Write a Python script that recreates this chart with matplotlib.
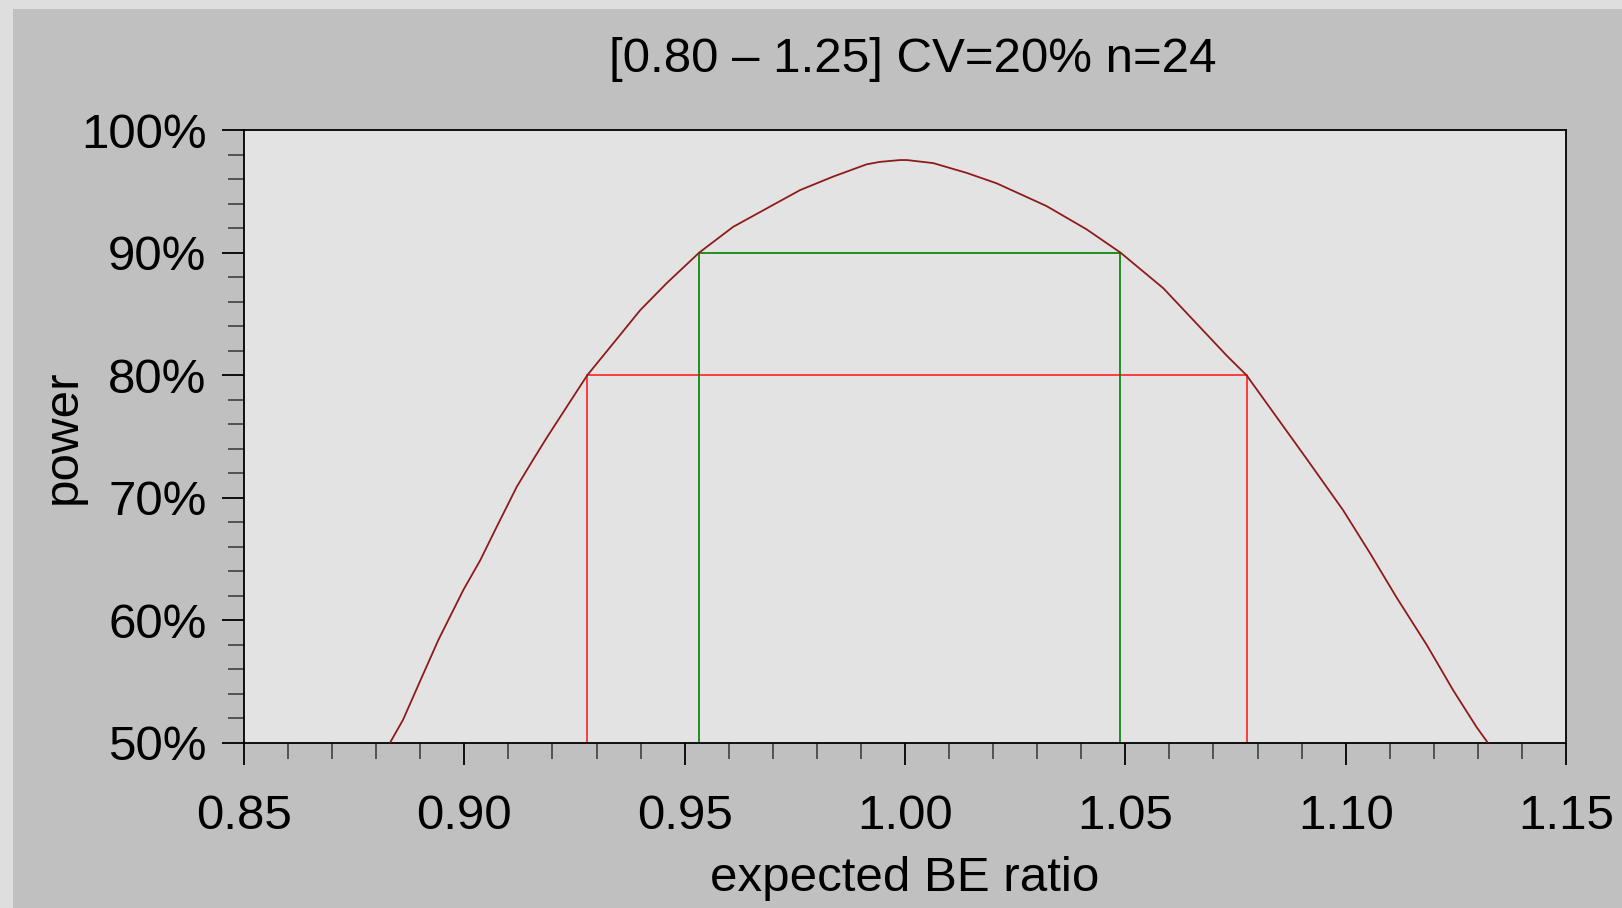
import matplotlib
matplotlib.use("Agg")
import matplotlib.pyplot as plt
from matplotlib.patches import Rectangle
from matplotlib.ticker import MultipleLocator, PercentFormatter

plt.rcParams["font.family"] = ["Liberation Sans", "DejaVu Sans"]

# power curve of the BE study, read along the expected ratio
be_ratio = [0.8831, 0.8861, 0.8899, 0.8941, 0.8998, 0.9036, 0.9073, 0.9119,
            0.9156, 0.9187, 0.9232, 0.9279, 0.9338, 0.9399, 0.9459, 0.9533,
            0.9610, 0.9686, 0.9762, 0.9837, 0.9913, 0.9943, 0.9989, 1.0004,
            1.0064, 1.0140, 1.0208, 1.0321, 1.0412, 1.0489, 1.0586, 1.0662,
            1.0730, 1.0775, 1.0843, 1.0911, 1.0994, 1.1055, 1.1115, 1.1184,
            1.1244, 1.1297, 1.1323]
power = [50.0, 51.9, 55.0, 58.4, 62.5, 64.9, 67.6, 70.9,
         73.1, 74.9, 77.4, 80.0, 82.6, 85.3, 87.5, 90.0,
         92.1, 93.6, 95.1, 96.2, 97.2, 97.4, 97.55, 97.55,
         97.3, 96.5, 95.65, 93.8, 91.9, 90.0, 87.1, 84.2,
         81.6, 80.0, 76.6, 73.2, 69.0, 65.5, 61.9, 58.0,
         54.3, 51.3, 50.0]

# ratio ranges reaching 80% and 90% power
range80 = [0.9279, 1.0775]
range90 = [0.9533, 1.0489]
levels = [80, 90]

title = "[0.80 \u2013 1.25] CV=20% n=24"
fs = 35.5

fig = plt.figure(figsize=(16.22, 9.08), dpi=100, facecolor="#dedede")
fig.patches.append(Rectangle((13 / 1622, 0), 1, 1 - 9 / 908,
                             transform=fig.transFigure, facecolor="#c0c0c0",
                             edgecolor="none", zorder=-10))
ax = fig.add_axes([244 / 1622, 1 - 743 / 908, (1566 - 244) / 1622, (743 - 130) / 908])
ax.set_facecolor("#e3e3e3")

ax.plot(be_ratio, power, color="#8e1b1b", linewidth=1.3, zorder=3)

for (lo, hi), lvl, col in zip([range80, range90], levels, ["#ff2020", "#008000"]):
    ax.plot([lo, lo, hi, hi], [50, lvl, lvl, 50], color=col, linewidth=1.2, zorder=2)

ax.set_xlim(0.85, 1.15)
ax.set_ylim(50, 100)
ax.xaxis.set_major_locator(MultipleLocator(0.05))
ax.xaxis.set_minor_locator(MultipleLocator(0.01))
ax.yaxis.set_major_locator(MultipleLocator(10))
ax.yaxis.set_minor_locator(MultipleLocator(2))
ax.xaxis.set_major_formatter(lambda v, p: f"{v:.2f}")
ax.yaxis.set_major_formatter(PercentFormatter(xmax=100, decimals=0))

ax.tick_params(which="major", length=16, width=1.3, color="black",
               labelsize=fs, direction="out")
ax.tick_params(which="minor", length=11.5, width=1.2, color="#404040",
               direction="out")
ax.tick_params(axis="x", which="major", pad=21)
ax.tick_params(axis="y", which="major", pad=11)
for s in ax.spines.values():
    s.set_linewidth(1.3)
    s.set_color("black")

ax.set_xlabel("expected BE ratio", fontsize=fs)
ax.set_ylabel("power", fontsize=fs)
ax.xaxis.set_label_coords(0.5, -0.184)
ax.yaxis.set_label_coords(-0.120, 0.5)
ax.set_title(title, fontsize=fs, pad=42, x=0.506)

fig.savefig("out.png", dpi=100, facecolor=fig.get_facecolor())
